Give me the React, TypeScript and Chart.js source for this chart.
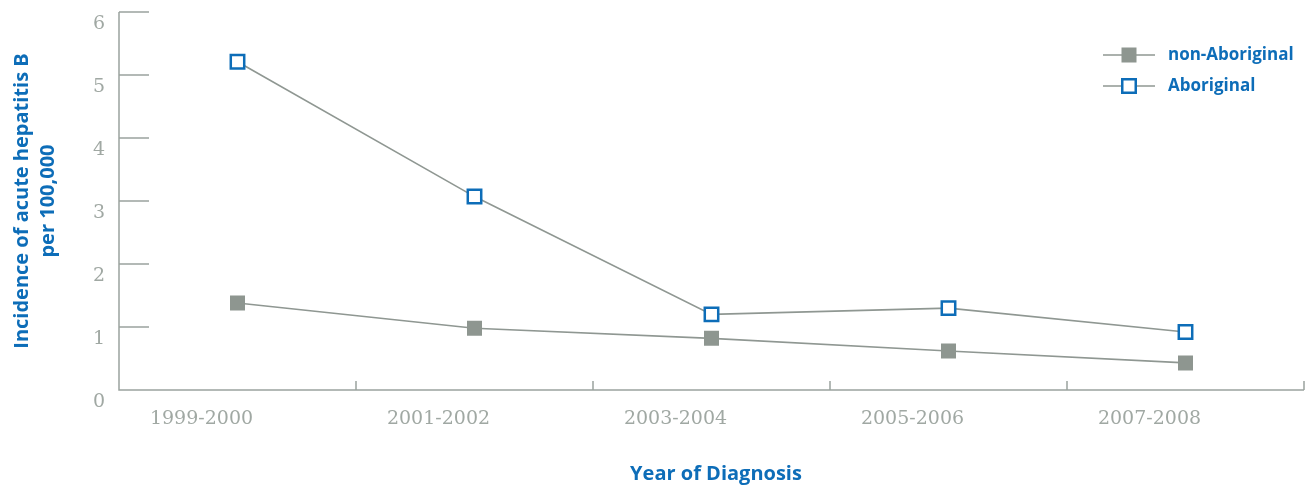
import React, { useEffect, useRef } from "react";
import { Chart, registerables } from "chart.js";

Chart.register(...registerables);

const categories = ["1999-2000", "2001-2002", "2003-2004", "2005-2006", "2007-2008"];
const nonAboriginal = [1.38, 0.98, 0.82, 0.62, 0.43];
const aboriginal = [5.21, 3.07, 1.2, 1.3, 0.92];
const yTicks = [0, 1, 2, 3, 4, 5, 6];
const seriesNames = ["non-Aboriginal", "Aboriginal"];
const xTitle = "Year of Diagnosis";
const yTitleLines = ["Incidence of acute hepatitis B", "per 100,000"];

const AXIS = "#9ba39e";
const LINE = "#8f9792";
const GREY = "#8e9690";
const BLUE = "#0d6db8";
const TICK_COLOR = "#a0a8a3";
const TITLE_FONT = '700 20px "Open Sans"';
const LEGEND_FONT = '700 17px "Open Sans"';

function drawMarker(ctx: CanvasRenderingContext2D, kind: number, cx: number, cy: number) {
  if (kind === 0) {
    ctx.fillStyle = GREY;
    ctx.fillRect(cx - 7.5, cy - 7.5, 15, 15);
  } else {
    ctx.fillStyle = "#ffffff";
    ctx.fillRect(cx - 7, cy - 7, 14, 14);
    ctx.strokeStyle = BLUE;
    ctx.lineWidth = 2.5;
    ctx.strokeRect(cx - 6.75, cy - 6.75, 13.5, 13.5);
  }
}

const decor = {
  id: "decor",
  beforeDatasetsDraw(chart: any) {
    const { ctx, chartArea: a, scales } = chart;
    const x = scales.x;
    const y = scales.y;
    ctx.save();
    ctx.strokeStyle = AXIS;
    ctx.lineWidth = 1.5;
    ctx.beginPath();
    ctx.moveTo(a.left, a.top);
    ctx.lineTo(a.left, a.bottom);
    ctx.lineTo(a.right, a.bottom);
    yTicks.forEach((v) => {
      const py = y.getPixelForValue(v);
      ctx.moveTo(a.left, py);
      ctx.lineTo(a.left + 30, py);
    });
    for (let i = 1; i <= categories.length; i++) {
      const px = x.getPixelForValue(i - 0.5);
      ctx.moveTo(px, a.bottom);
      ctx.lineTo(px, a.bottom - 9);
    }
    ctx.stroke();
    ctx.restore();
  },
  afterDraw(chart: any) {
    const { ctx, chartArea: a } = chart;
    ctx.save();
    ctx.fillStyle = BLUE;
    ctx.font = TITLE_FONT;
    ctx.textAlign = "center";
    ctx.textBaseline = "middle";
    ctx.fillText(xTitle, 716, 474);
    const cy = (a.top + a.bottom) / 2;
    ctx.save();
    ctx.translate(22, cy);
    ctx.rotate(-Math.PI / 2);
    ctx.fillText(yTitleLines[0], 0, 0);
    ctx.restore();
    ctx.save();
    ctx.translate(48, cy);
    ctx.rotate(-Math.PI / 2);
    ctx.fillText(yTitleLines[1], 0, 0);
    ctx.restore();
    const rows = [55, 86];
    seriesNames.forEach((name, i) => {
      const ly = rows[i];
      ctx.strokeStyle = LINE;
      ctx.lineWidth = 1.5;
      ctx.beginPath();
      ctx.moveTo(1103, ly);
      ctx.lineTo(1155, ly);
      ctx.stroke();
      drawMarker(ctx, i, 1129, ly);
      ctx.fillStyle = BLUE;
      ctx.font = LEGEND_FONT;
      ctx.textAlign = "left";
      ctx.textBaseline = "middle";
      ctx.fillText(name, 1168, ly);
    });
    ctx.restore();
  },
};

export default function App() {
  const ref = useRef<HTMLCanvasElement>(null);
  useEffect(() => {
    document.body.style.margin = "0";
    const chart = new Chart(ref.current!, {
      type: "line",
      data: {
        labels: categories,
        datasets: [
          {
            label: seriesNames[0],
            data: nonAboriginal,
            borderColor: LINE,
            borderWidth: 1.6,
            pointStyle: "rect",
            pointRadius: 10.6,
            pointBackgroundColor: GREY,
            pointBorderColor: GREY,
            pointBorderWidth: 0,
          },
          {
            label: seriesNames[1],
            data: aboriginal,
            borderColor: LINE,
            borderWidth: 1.6,
            pointStyle: "rect",
            pointRadius: 9.5,
            pointBackgroundColor: "#ffffff",
            pointBorderColor: BLUE,
            pointBorderWidth: 2.5,
          },
        ],
      },
      options: {
        animation: false,
        responsive: true,
        maintainAspectRatio: false,
        layout: { padding: { top: 11, right: 10, left: 0, bottom: 0 } },
        plugins: { legend: { display: false }, tooltip: { enabled: false } },
        scales: {
          x: {
            type: "category",
            offset: true,
            grid: { display: false, drawTicks: false },
            border: { display: false },
            ticks: {
              color: TICK_COLOR,
              font: { family: '"DejaVu Serif"', size: 19 },
              padding: 18,
              maxRotation: 0,
              labelOffset: -36,
            },
            afterFit: (s: any) => {
              s.height = 99;
              s.paddingLeft = 0;
              s.paddingRight = 0;
            },
          },
          y: {
            min: 0,
            max: 6,
            grid: { display: false, drawTicks: false },
            border: { display: false },
            ticks: {
              stepSize: 1,
              color: TICK_COLOR,
              font: { family: '"DejaVu Serif"', size: 19 },
              padding: 14,
              labelOffset: 12,
            },
            afterFit: (s: any) => {
              s.width = 119;
              s.paddingTop = 0;
              s.paddingBottom = 0;
            },
          },
        },
      },
      plugins: [decor],
    });
    return () => chart.destroy();
  }, []);
  return (
    <div style={{ width: 1316, height: 489, position: "relative" }}>
      <canvas ref={ref} />
    </div>
  );
}
